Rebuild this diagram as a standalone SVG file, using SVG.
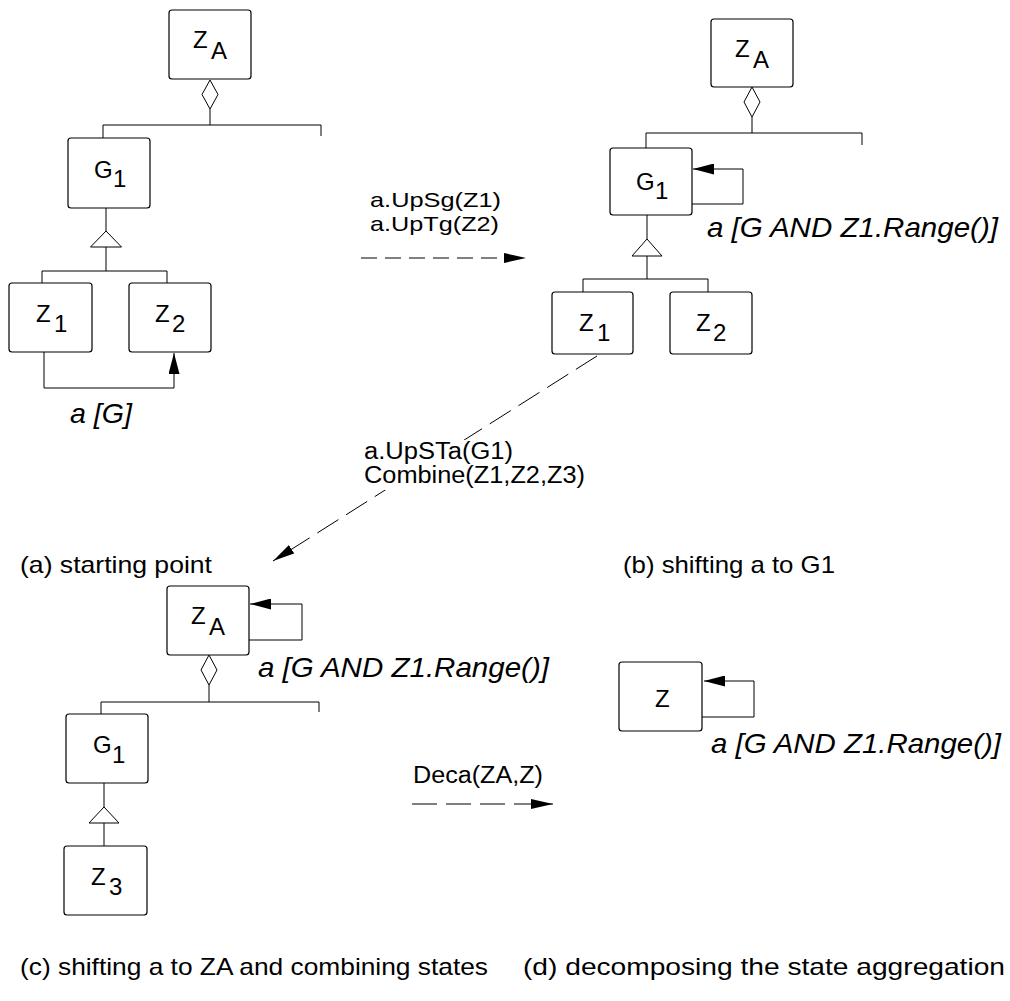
<svg xmlns="http://www.w3.org/2000/svg" width="1010" height="1001" viewBox="0 0 1010 1001">
  <style>
    .box { fill: #fff; stroke: #000; stroke-width: 1.2; }
    .ln { fill: none; stroke: #000; stroke-width: 1; }
    .dash { fill: none; stroke: #000; stroke-width: 1; stroke-dasharray: 16 8; }
    .dash2 { fill: none; stroke: #000; stroke-width: 1; stroke-dasharray: 25 9; }
    .hollow { fill: #fff; stroke: #000; stroke-width: 1; }
    .head { fill: #000; stroke: none; }
    .lbl { font-family: "Liberation Sans", Arial, sans-serif; font-size: 24px; fill: #000; }
    .op { font-family: "Liberation Sans", Arial, sans-serif; font-size: 23px; fill: #000; }
    .op2 { font-family: "Liberation Sans", Arial, sans-serif; font-size: 21px; fill: #000; }
    .grd { font-family: "Liberation Sans", Arial, sans-serif; font-size: 28px; font-style: italic; fill: #000; }
    .cap { font-family: "Liberation Sans", Arial, sans-serif; font-size: 24px; fill: #000; }
  </style>
  <defs>
    <marker id="tip" markerUnits="userSpaceOnUse" markerWidth="22" markerHeight="11" refX="21" refY="5.5" orient="auto">
      <path d="M0,0 L21,5.5 L0,11 z" class="head"/>
    </marker>
    <marker id="tipS" markerUnits="userSpaceOnUse" markerWidth="23" markerHeight="10" refX="22" refY="5" orient="auto">
      <path d="M0,0 L22,5 L0,10 z" class="head"/>
    </marker>
  </defs>

  <rect width="1010" height="1001" fill="#fff"/>

  <!-- ===== (a) starting point ===== -->
  <g id="a-ZA">
    <rect class="box" x="169" y="10" width="82" height="69" rx="3"/>
    <text class="lbl" x="193" y="48">Z</text><text class="lbl" x="211" y="59">A</text>
  </g>
  <g id="a-G1">
    <rect class="box" x="68" y="138" width="82" height="70" rx="3"/>
    <text class="lbl" x="94" y="178">G</text><text class="lbl" x="113" y="187">1</text>
  </g>
  <g id="a-Z1">
    <rect class="box" x="9" y="283" width="83" height="69" rx="3"/>
    <text class="lbl" x="36" y="322">Z</text><text class="lbl" x="54" y="332">1</text>
  </g>
  <g id="a-Z2">
    <rect class="box" x="129" y="283" width="82" height="69" rx="3"/>
    <text class="lbl" x="155" y="322">Z</text><text class="lbl" x="172" y="332">2</text>
  </g>

  <!-- ===== (b) shifting a to G1 ===== -->
  <g id="b-ZA">
    <rect class="box" x="711" y="19" width="82" height="68" rx="3"/>
    <text class="lbl" x="735" y="57">Z</text><text class="lbl" x="753" y="68">A</text>
  </g>
  <g id="b-G1">
    <rect class="box" x="610" y="148" width="82" height="67" rx="3"/>
    <text class="lbl" x="636" y="190">G</text><text class="lbl" x="655" y="199">1</text>
  </g>
  <g id="b-Z1">
    <rect class="box" x="552" y="292" width="81" height="62" rx="3"/>
    <text class="lbl" x="579" y="331">Z</text><text class="lbl" x="597" y="341">1</text>
  </g>
  <g id="b-Z2">
    <rect class="box" x="670" y="292" width="82" height="62" rx="3"/>
    <text class="lbl" x="696" y="331">Z</text><text class="lbl" x="713" y="341">2</text>
  </g>

  <!-- ===== (c) shifting a to ZA and combining states ===== -->
  <g id="c-ZA">
    <rect class="box" x="167" y="586" width="82" height="69" rx="3"/>
    <text class="lbl" x="191" y="624">Z</text><text class="lbl" x="209" y="635">A</text>
  </g>
  <g id="c-G1">
    <rect class="box" x="66" y="714" width="82" height="69" rx="3"/>
    <text class="lbl" x="93" y="753">G</text><text class="lbl" x="112" y="763">1</text>
  </g>
  <g id="c-Z3">
    <rect class="box" x="64" y="846" width="83" height="69" rx="3"/>
    <text class="lbl" x="91" y="885">Z</text><text class="lbl" x="109" y="895">3</text>
  </g>

  <!-- ===== (d) decomposing the state aggregation ===== -->
  <g id="d-Z">
    <rect class="box" x="619" y="662" width="83" height="69" rx="3"/>
    <text class="lbl" x="655" y="707">Z</text>
  </g>

  <!-- ===== connectors ===== -->
  <g id="connectors">
    <!-- (a) aggregation and generalisation -->
    <path class="ln" d="M210,109 V125 M103,138 V125 H321 V136"/>
    <polygon class="hollow" points="210,80 218,94.5 210,109 202,94.5"/>
    <path class="ln" d="M106,208 V231 M106,247 V271 M42,283 V271 H167 V283"/>
    <polygon class="hollow" points="106,231 121.5,247 90.5,247"/>
    <!-- (a) transition Z1 -> Z2 -->
    <path class="ln" d="M44,352 V388 H174 V353" marker-end="url(#tip)"/>

    <!-- (b) aggregation and generalisation -->
    <path class="ln" d="M752,117 V133 M646,148 V133 H862 V145"/>
    <polygon class="hollow" points="752,87 760,102 752,117 744,102"/>
    <path class="ln" d="M647,215 V239 M647,256 V279 M583,292 V279 H708 V292"/>
    <polygon class="hollow" points="647,239 662,256 632,256"/>
    <!-- (b) self transition on G1 -->
    <path class="ln" d="M692,204 H743 V169 H693" marker-end="url(#tip)"/>

    <!-- (c) aggregation and generalisation -->
    <path class="ln" d="M209,685 V702 M101,714 V702 H319 V712"/>
    <polygon class="hollow" points="209,655 217,670 209,685 201,670"/>
    <path class="ln" d="M104,783 V807 M104,823 V846"/>
    <polygon class="hollow" points="104,807 119,823 89,823"/>
    <!-- (c) self transition on ZA -->
    <path class="ln" d="M249,640 H302 V604 H250" marker-end="url(#tip)"/>

    <!-- (d) self transition on Z -->
    <path class="ln" d="M702,717 H754 V681 H704" marker-end="url(#tip)"/>

    <!-- refactoring steps -->
    <path class="dash" d="M361,258 H526" marker-end="url(#tipS)"/>
    <path class="dash2" d="M597,356 L273,561" marker-end="url(#tipS)"/>
    <path class="dash2" d="M412,804 H553" marker-end="url(#tipS)"/>
  </g>

  <!-- ===== labels ===== -->
  <g id="labels">
    <text class="grd" x="70" y="423" textLength="62" lengthAdjust="spacingAndGlyphs">a [G]</text>
    <text class="grd" x="707" y="237" textLength="291" lengthAdjust="spacingAndGlyphs">a [G AND Z1.Range()]</text>
    <text class="grd" x="258" y="677" textLength="291" lengthAdjust="spacingAndGlyphs">a [G AND Z1.Range()]</text>
    <text class="grd" x="711" y="753" textLength="290" lengthAdjust="spacingAndGlyphs">a [G AND Z1.Range()]</text>

    <text class="op2" x="370" y="207" textLength="131" lengthAdjust="spacingAndGlyphs">a.UpSg(Z1)</text>
    <text class="op2" x="370" y="231" textLength="129" lengthAdjust="spacingAndGlyphs">a.UpTg(Z2)</text>

    <rect x="360" y="440" width="230" height="50" fill="#fff"/>
    <text class="op" x="364" y="459" textLength="149" lengthAdjust="spacingAndGlyphs">a.UpSTa(G1)</text>
    <text class="op" x="364" y="483" textLength="221" lengthAdjust="spacingAndGlyphs">Combine(Z1,Z2,Z3)</text>

    <text class="op" x="413" y="783" textLength="130" lengthAdjust="spacingAndGlyphs">Deca(ZA,Z)</text>

    <text class="cap" x="20" y="573" textLength="192" lengthAdjust="spacingAndGlyphs">(a) starting point</text>
    <text class="cap" x="623" y="573" textLength="212" lengthAdjust="spacingAndGlyphs">(b) shifting a to G1</text>
    <text class="cap" x="20" y="975" textLength="468" lengthAdjust="spacingAndGlyphs">(c) shifting a to ZA and combining states</text>
    <text class="cap" x="523" y="975" textLength="482" lengthAdjust="spacingAndGlyphs">(d) decomposing the state aggregation</text>
  </g>
</svg>
